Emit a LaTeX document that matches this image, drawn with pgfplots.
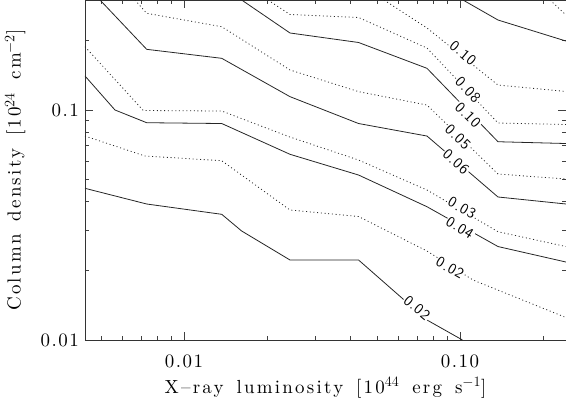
\documentclass[border=0pt]{standalone}
\usepackage{fontspec}
\usepackage{pgfplots}
\pgfplotsset{compat=1.18}

\newfontfamily\hershey{lmroman10-regular.otf}[LetterSpace=12, WordSpace=1.5]
\newfontfamily\hnum{lmroman10-regular.otf}[LetterSpace=8]
\newfontfamily\hsans{lmsans10-regular.otf}[LetterSpace=6]
\newcommand\lblfont{\hershey\fontsize{19}{22}\selectfont}
\newcommand\tickfont{\hnum\fontsize{19}{22}\selectfont}
\newcommand\cfont{\hsans\fontsize{15}{15}\selectfont}
\tikzset{clab/.style={font=\cfont, fill=white, inner sep=1bp}}

\begin{document}
\begin{tikzpicture}
\useasboundingbox (-85bp,-59bp) rectangle (481bp,340bp);
\begin{axis}[
  scale only axis, width=481bp, height=340bp,
  xmode=log, ymode=log,
  xmin=0.004378, xmax=0.24213, ymin=0.01, ymax=0.30082,
  xtick={0.01,0.1}, xticklabels={0.01,0.10},
  ytick={0.01,0.1}, yticklabels={0.01,0.1},
  minor xtick={0.005,0.006,0.007,0.008,0.009,0.02,0.03,0.04,0.05,0.06,0.07,0.08,0.09,0.2},
  minor ytick={0.02,0.03,0.04,0.05,0.06,0.07,0.08,0.09,0.2},
  tick align=inside, tick pos=both,
  major tick length=8bp, minor tick length=4.5bp,
  every tick/.style={black!75, line width=0.6bp},
  axis line style={black!80, line width=0.8bp},
  ticklabel style={font=\tickfont},
  xticklabel style={anchor=north, inner sep=0pt, yshift=-15bp},
  yticklabel style={anchor=east, inner sep=0pt, xshift=-6bp},
  xlabel={X\textendash ray luminosity [10$^{44}$ erg s$^{-1}$]},
  ylabel={Column density [10$^{24}$ cm$^{-2}$]},
  label style={font=\lblfont},
  xlabel style={at={(axis description cs:0.5,-0.1559)}, anchor=base, inner sep=0pt},
  ylabel style={at={(axis description cs:-0.1340,0.5)}, anchor=base, inner sep=0pt},
  every axis plot/.append style={black!85, line width=0.8bp},
  cdot/.style={dash pattern=on 1bp off 2.7bp},
]
% unlabelled contours, top right
\addplot[cdot] coordinates {(0.2119,0.3008) (0.2421,0.2588)};
\addplot[solid] coordinates {(0.1025,0.3008) (0.1373,0.2462) (0.2421,0.1995)};
% 0.10 dotted
\addplot[cdot] coordinates {(0.05305,0.3008) (0.07593,0.2273) (0.1373,0.1284) (0.2421,0.1204)};
% 0.08 dotted
\addplot[cdot] coordinates {(0.02015,0.3008) (0.02421,0.2602) (0.0429,0.2525) (0.07593,0.1860) (0.1373,0.0878) (0.2421,0.0865)};
% 0.10 solid
\addplot[solid] coordinates {(0.01618,0.3008) (0.02421,0.2162) (0.0429,0.1966) (0.07593,0.1518) (0.1373,0.0728) (0.2421,0.0715)};
% 0.05 dotted
\addplot[cdot] coordinates {(0.006644,0.3008) (0.007326,0.2633) (0.0137,0.2302) (0.02421,0.1493) (0.0429,0.1202) (0.07593,0.1051) (0.1373,0.05268) (0.2421,0.05012)};
% 0.06 solid
\addplot[solid] coordinates {(0.004962,0.3008) (0.007326,0.1836) (0.0137,0.1678) (0.02421,0.1143) (0.0429,0.08735) (0.07593,0.07707) (0.1373,0.04186) (0.2421,0.03903)};
% 0.03 dotted
\addplot[cdot] coordinates {(0.004378,0.1885) (0.007121,0.0995) (0.0137,0.0990) (0.02421,0.0763) (0.0429,0.06061) (0.07593,0.04489) (0.1373,0.02957) (0.2421,0.02549)};
% 0.04 solid
\addplot[solid] coordinates {(0.004378,0.1406) (0.005623,0.1) (0.007326,0.08806) (0.0137,0.08735) (0.02421,0.06419) (0.0429,0.05216) (0.07593,0.03798) (0.1373,0.02549) (0.2421,0.02183)};
% 0.02 dotted
\addplot[cdot] coordinates {(0.004378,0.07707) (0.007223,0.0631) (0.0137,0.06019) (0.02421,0.03675) (0.0429,0.03443) (0.07593,0.02437) (0.1115,0.01823) (0.2421,0.012525)};
% 0.02 solid
\addplot[solid] coordinates {(0.004378,0.04566) (0.007326,0.03903) (0.0137,0.0352) (0.01618,0.02978) (0.02421,0.02228) (0.0429,0.02228) (0.07593,0.012217) (0.1021,0.01)};

% contour labels
\node[clab, rotate=-40] at (axis cs:0.1025,0.1769) {0.10};
\node[clab, rotate=-46] at (axis cs:0.1069,0.1222) {0.08};
\node[clab, rotate=-45] at (axis cs:0.1069,0.0951) {0.10};
\node[clab, rotate=-44] at (axis cs:0.09834,0.0763) {0.05};
\node[clab, rotate=-42] at (axis cs:0.09672,0.05941) {0.06};
\node[clab, rotate=-30] at (axis cs:0.1017,0.03749) {0.03};
\node[clab, rotate=-32] at (axis cs:0.1,0.03069) {0.04};
\node[clab, rotate=-30] at (axis cs:0.0920,0.02056) {0.02};
\node[clab, rotate=-40] at (axis cs:0.06985,0.013776) {0.02};
\end{axis}
\end{tikzpicture}
\end{document}
